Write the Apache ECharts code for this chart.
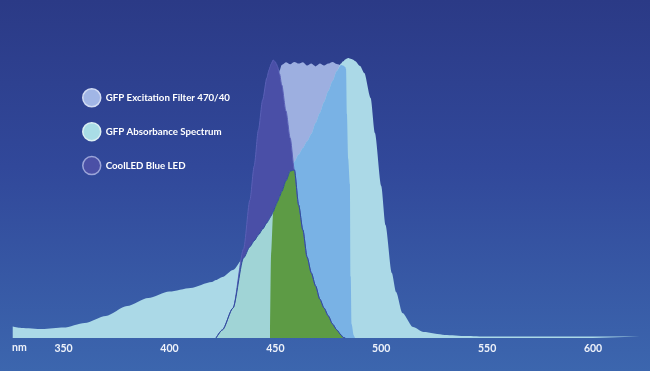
<!DOCTYPE html>
<html>
<head>
<meta charset="utf-8">
<script src="https://cdn.jsdelivr.net/npm/echarts@6/dist/echarts.min.js"></script>
<style>
  html, body { margin: 0; padding: 0; }
  #chart { width: 650px; height: 371px; background: linear-gradient(to bottom, #2b3a86 0%, #31489a 45%, #3c66ae 100%); }
</style>
</head>
<body>
<div id="chart"></div>
<script>
// Wavelengths (nm) shared by all curves
const wavelengths = [326,330,340,350,360,370,380,390,400,410,420,422,425,430,435,438,440,442,444,446,447,447.5,448,449,450,450.5,451,452,453,455,457,459,461,463,465,467,469,471,473,475,477,479,481,482,483,483.4,483.8,484.4,485.2,485.6,486,487,487.6,490,492,495,497,500,502,505,507,510,515,520,530,540,550,560,580,600,622];

// GFP absorbance spectrum (relative %)
const absorbance = [4.1,3.6,3.2,3.75,5.4,7.9,11.4,14.3,16.6,17.9,20.0,20.7,21.8,24.3,28.6,32.6,34.7,36.8,38.9,41.1,42.3,43,43.6,45.1,46.9,47.9,48.7,50.5,52.3,56.1,59.6,63,65.5,67.9,70.3,72.9,76.8,80.4,84.3,88.2,91.8,95.4,98,98.8,99.5,99.6,99.8,100,99.8,99.7,99.6,99.3,98.9,97.1,94.6,85.7,73.2,54.3,40.4,23.2,16.4,8.9,3.9,2.1,1.1,0.7,0.5,0.5,0.5,0.5,0.5];

// GFP excitation filter 470/40 transmission (relative %)
const filter470 = [null,null,null,null,null,null,null,null,null,null,null,null,null,null,null,null,null,null,null,null,null,0,30,60,80,87,91,95.5,97.5,98.5,97.8,98.6,98,98.5,97.3,98,97,98,97.3,98,98.6,97.9,97.5,97.3,96.8,96,80,64,55,22,5,1,0,null,null,null,null,null,null,null,null,null,null,null,null,null,null,null,null,null,null];

// CoolLED blue LED emission (relative %)
const blueLED = [null,null,null,null,null,null,null,null,null,null,null,0,2.9,10.7,31.8,49.3,61.4,74.3,85,92.9,95.7,96.8,97.9,99.3,98.6,97.9,97,94.3,90.4,81.1,71.4,60,47.5,38.6,28.9,23.2,18.6,13.9,10.7,7.9,5,2.9,1.1,0.2,0,null,null,null,null,null,null,null,null,null,null,null,null,null,null,null,null,null,null,null,null,null,null,null,null,null,null];

const xTicks = [350,400,450,500,550,600];
const seriesNames = ['GFP Excitation Filter 470/40','GFP Absorbance Spectrum','CoolLED Blue LED'];

function minOf(...arrs) {
  return wavelengths.map((_, i) => arrs.some(a => a[i] == null) ? null : Math.min(...arrs.map(a => a[i])));
}
function pairs(arr) { return wavelengths.map((w, i) => [w, arr[i]]); }

function area(name, arr, color, line) {
  return {
    name: name, type: 'line', data: pairs(arr), symbol: 'none', smooth: 0.25,
    smoothMonotone: 'x', connectNulls: false, silent: true,
    lineStyle: line || { width: 0 },
    areaStyle: { color: color, opacity: 1 },
    itemStyle: { color: color }
  };
}

const chart = echarts.init(document.getElementById('chart'), null, { renderer: 'canvas' });
chart.setOption({
  animation: false,
  backgroundColor: 'transparent',
  grid: { left: 0, right: 4, top: 58, bottom: 33 },
  xAxis: {
    type: 'value', min: 320, max: 625,
    axisLine: { show: false }, axisTick: { show: false }, splitLine: { show: false },
    axisLabel: {
      customValues: xTicks, margin: 5,
      color: '#eef2fa', fontFamily: 'Lato', fontWeight: 'bold', fontSize: 10.5
    }
  },
  yAxis: { type: 'value', min: 0, max: 100, show: false },
  legend: {
    orient: 'vertical', left: 82, top: 88, padding: 0, itemGap: 14.4,
    itemWidth: 18, itemHeight: 18, icon: 'circle', selectedMode: false,
    textStyle: { color: '#ffffff', fontFamily: 'Lato', fontWeight: 'bold', fontSize: 9.7 },
    data: [
      { name: seriesNames[0], itemStyle: { color: '#a1b6e6', borderColor: '#d2dcf3', borderWidth: 1.5 } },
      { name: seriesNames[1], itemStyle: { color: '#a9dde6', borderColor: '#dcf0f3', borderWidth: 1.5 } },
      { name: seriesNames[2], itemStyle: { color: '#4b50a6', borderColor: '#9ca5d9', borderWidth: 1.5 } }
    ]
  },
  graphic: [
    { type: 'text', left: 12, top: 342, style: { text: 'nm', fill: '#eef2fa', font: 'bold 10.5px Lato' } }
  ],
  series: [
    area(seriesNames[0], filter470, '#9dafe0'),
    area(seriesNames[1], absorbance, '#abd9e7'),
    area('filter-absorbance overlap', minOf(filter470, absorbance), '#79b2e5'),
    area(seriesNames[2], blueLED, '#4a4fa7', { width: 1, color: '#5a60b6' }),
    area('LED-absorbance overlap', minOf(blueLED, absorbance), '#a0d4d6', { width: 1, color: '#2f4d9e' }),
    area('LED-absorbance-filter overlap', minOf(blueLED, absorbance, filter470), '#5d9b45')
  ]
});
</script>
</body>
</html>
